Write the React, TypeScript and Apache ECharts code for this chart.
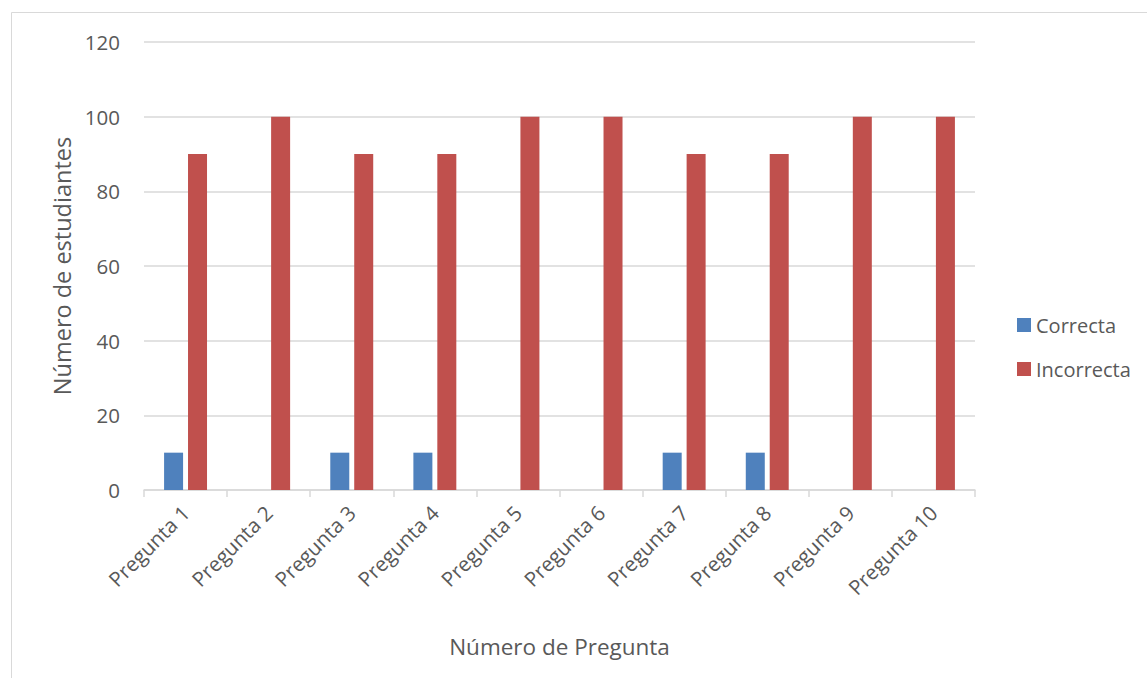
import React, { useEffect, useRef } from "react";
import * as echarts from "echarts";

const categories = [
  "Pregunta 1", "Pregunta 2", "Pregunta 3", "Pregunta 4", "Pregunta 5",
  "Pregunta 6", "Pregunta 7", "Pregunta 8", "Pregunta 9", "Pregunta 10",
];
const correcta = [10, 0, 10, 10, 0, 0, 10, 10, 0, 0];
const incorrecta = [90, 100, 90, 90, 100, 100, 90, 90, 100, 100];

const FONT = "'Open Sans', sans-serif";
const TEXT = "#595959";
const GRID = "#d9d9d9";

export default function App() {
  const ref = useRef<HTMLDivElement>(null);
  useEffect(() => {
    document.body.style.margin = "0";
    const chart = echarts.init(ref.current!, undefined, { renderer: "svg" });
    chart.setOption({
      animation: false,
      backgroundColor: "#ffffff",
      textStyle: { fontFamily: FONT, color: TEXT },
      graphic: [
        {
          type: "rect",
          shape: { x: 11.5, y: 12.5, width: 1160, height: 700 },
          style: { fill: "none", stroke: GRID, lineWidth: 1 },
          silent: true,
        },
      ],
      grid: { left: 144, right: 1147 - 975, top: 42, bottom: 678 - 490, containLabel: false },
      legend: {
        orient: "vertical",
        left: 1017,
        top: 315,
        padding: 0,
        itemWidth: 14,
        itemHeight: 14,
        itemGap: 24,
        icon: "rect",
        textStyle: { fontFamily: FONT, fontSize: 20, color: TEXT, padding: [0, 0, 0, 0] },
        data: ["Correcta", "Incorrecta"],
      },
      xAxis: {
        type: "category",
        data: categories,
        name: "Número de Pregunta",
        nameLocation: "middle",
        nameGap: 145,
        nameTextStyle: { fontFamily: FONT, fontSize: 22.5, color: TEXT },
        axisLine: { lineStyle: { color: GRID, width: 1.5 } },
        axisTick: { show: true, length: 7, lineStyle: { color: GRID, width: 1.5 } },
        axisLabel: { rotate: 45, fontFamily: FONT, fontSize: 20.5, color: TEXT, margin: 19, interval: 0 },
      },
      yAxis: {
        type: "value",
        min: 0,
        max: 120,
        interval: 20,
        name: "Número de estudiantes",
        nameLocation: "middle",
        nameGap: 69,
        nameTextStyle: { fontFamily: FONT, fontSize: 23.5, color: TEXT },
        axisLine: { show: false },
        axisTick: { show: false },
        axisLabel: { fontFamily: FONT, fontSize: 20.5, color: TEXT, margin: 24 },
        splitLine: { lineStyle: { color: GRID, width: 1.5 } },
      },
      series: [
        {
          name: "Correcta",
          type: "bar",
          data: correcta,
          barWidth: 19,
          barGap: "26%",
          itemStyle: { color: "#4F81BD" },
        },
        {
          name: "Incorrecta",
          type: "bar",
          data: incorrecta,
          barWidth: 19,
          itemStyle: { color: "#C0504D" },
        },
      ],
    });
    return () => chart.dispose();
  }, []);
  return <div ref={ref} style={{ width: 1147, height: 678, overflow: "hidden" }} />;
}
